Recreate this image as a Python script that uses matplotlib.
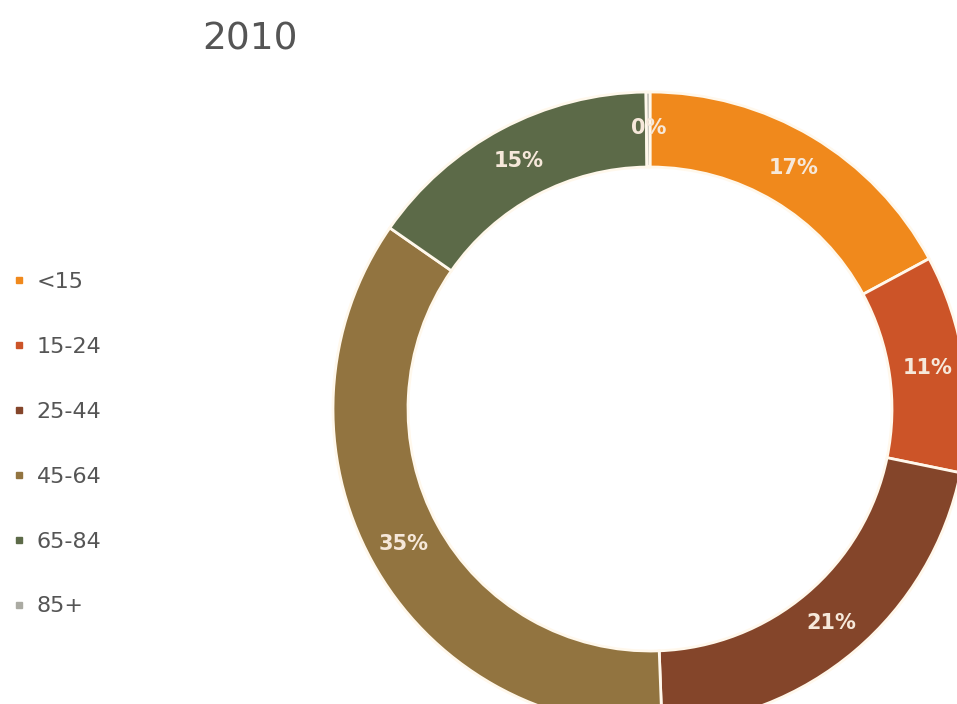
import matplotlib
matplotlib.use("Agg")
import matplotlib.pyplot as plt
from matplotlib.lines import Line2D

# Population share by age group, 2010
title = "2010"
age_groups = ["<15", "15-24", "25-44", "45-64", "65-84", "85+"]
shares = [17, 11, 21, 35, 15, 0.2]
colors = ["#F0891C", "#CC5428", "#84452A", "#927440", "#5C6A48", "#ABABA3"]

fig = plt.figure(figsize=(9.57, 7.04), dpi=100)
ax = fig.add_axes([0, 0, 1, 1])

wedges, _, autotexts = ax.pie(
    shares,
    colors=colors,
    center=(650, 295),
    radius=317,
    startangle=90,
    counterclock=False,
    autopct=lambda p: f"{p:.0f}%",
    pctdistance=0.885,
    wedgeprops=dict(width=75, edgecolor="#FFF8EC", linewidth=2),
    textprops=dict(color="#F6E8DA", fontsize=15, fontweight="bold"),
    frame=True,
)
ax.set_xlim(0, 957)
ax.set_ylim(0, 704)
ax.set_aspect("equal")
ax.axis("off")

fig.text(202 / 957, 1 - 50 / 704, title, fontsize=27, color="#555555",
         ha="left", va="baseline")

handles = [Line2D([], [], marker="s", linestyle="none", markersize=5,
                  markerfacecolor=c, markeredgecolor=c) for c in colors]
leg = fig.legend(
    handles, age_groups,
    loc="upper left",
    bbox_to_anchor=(-8 / 957, 1 - 252 / 704),
    frameon=False,
    fontsize=16,
    labelcolor="#555555",
    handlelength=0.6,
    handletextpad=0.5,
    labelspacing=2.02,
    borderaxespad=0.5,
)

fig.savefig("out.png", dpi=100)
